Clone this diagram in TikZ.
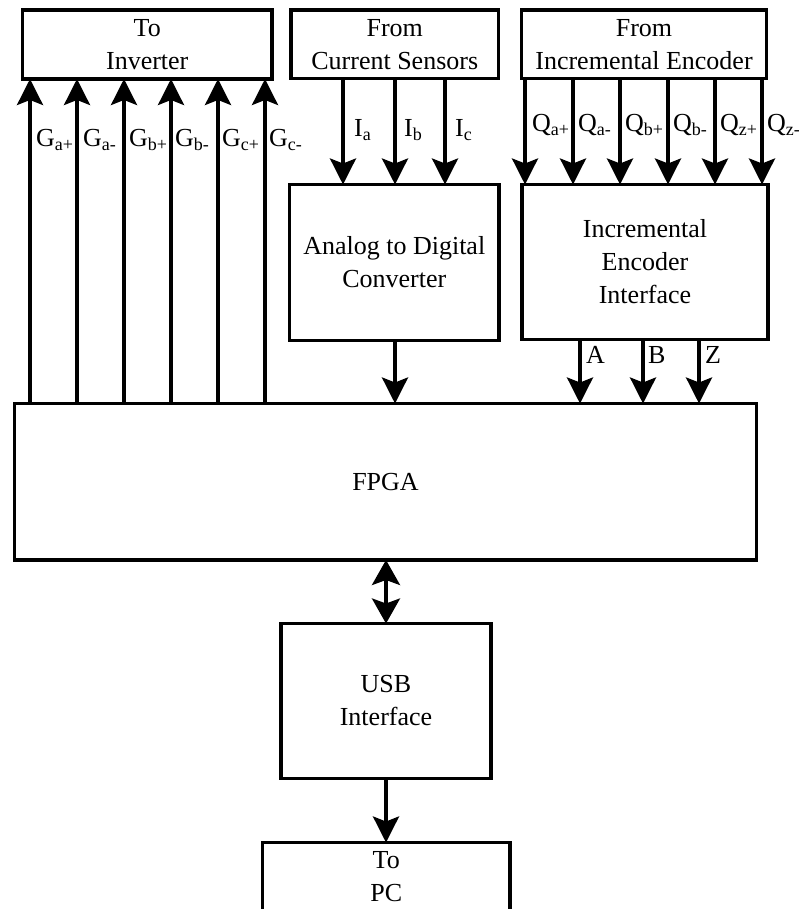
\documentclass[tikz,border=0pt]{standalone}
\usepackage{fontspec}
\setmainfont{Liberation Serif}
\usetikzlibrary{arrows.meta}
\newcommand{\lowsub}[1]{\raisebox{-4pt}{\fontsize{18}{18}\selectfont #1}}
\begin{document}
\begin{tikzpicture}[x=1pt,y=-1pt,
 box/.style={draw, line width=3.5pt, anchor=north west, inner sep=0pt, outer sep=0pt, align=center, font=\fontsize{26}{33}\selectfont},
 arr/.style={line width=3.5pt, -{Stealth[length=26pt,width=26pt,inset=5pt]}},
 darr/.style={line width=3.5pt, {Stealth[length=25pt,width=28pt,inset=5pt]}-{Stealth[length=25pt,width=28pt,inset=5pt]}},
 lbl/.style={anchor=base west, inner sep=0pt, font=\fontsize{26}{33}\selectfont}]
\useasboundingbox (0,0) rectangle (799,909);
\clip (0,0) rectangle (799,909);
% boxes
\node[box, minimum width=249.5pt, minimum height=69pt] (inv) at (22.5,10) {To\\Inverter};
\node[box, minimum width=207.5pt, minimum height=68.5pt] (cs) at (291,10) {From\\Current Sensors};
\node[box, minimum width=245pt, minimum height=68.5pt] (enc) at (521.5,10) {From\\Incremental Encoder};
\node[box, minimum width=209.5pt, minimum height=156pt] (adc) at (289.5,184.5) {Analog to Digital\\Converter};
\node[box, minimum width=246pt, minimum height=155pt] (eif) at (522,184.5) {Incremental\\Encoder\\Interface};
\node[box, minimum width=742pt, minimum height=156.5pt] (fpga) at (14.5,403.5) {FPGA};
\node[box, minimum width=210pt, minimum height=155pt] (usb) at (281,623.5) {USB\\Interface};
\node[box, minimum width=247.5pt, minimum height=69pt] (pc) at (262.5,842.5) {To\\PC};
% gate signals
\foreach \x in {30,77,124,171,218,265}
  \draw[arr] (fpga.north -| \x,0) -- (inv.south -| \x,0);
\node[lbl] (ga1) at (36,147) {G\lowsub{a+}};
\node[lbl] (ga2) at (83,147) {G\lowsub{a-}};
\node[lbl] (gb1) at (129,147) {G\lowsub{b+}};
\node[lbl] (gb2) at (175,147) {G\lowsub{b-}};
\node[lbl] (gc1) at (222,147) {G\lowsub{c+}};
\node[lbl] (gc2) at (269,147) {G\lowsub{c-}};
% current sensors
\foreach \x in {343,395,445}
  \draw[arr] (cs.south -| \x,0) -- (adc.north -| \x,0);
\node[lbl] (ia) at (354,137) {I\lowsub{a}};
\node[lbl] (ib) at (404,137) {I\lowsub{b}};
\node[lbl] (ic) at (455,137) {I\lowsub{c}};
% encoder signals
\foreach \x in {525,573,620,668,715,762}
  \draw[arr] (enc.south -| \x,0) -- (eif.north -| \x,0);
\node[lbl] (qa1) at (532,132) {Q\lowsub{a+}};
\node[lbl] (qa2) at (578,132) {Q\lowsub{a-}};
\node[lbl] (qb1) at (625,132) {Q\lowsub{b+}};
\node[lbl] (qb2) at (673,132) {Q\lowsub{b-}};
\node[lbl] (qz1) at (720,132) {Q\lowsub{z+}};
\node[lbl] (qz2) at (767,132) {Q\lowsub{z-}};
% to FPGA
\draw[arr] (adc.south -| 395,0) -- (fpga.north -| 395,0);
\foreach \x in {580,643,699}
  \draw[arr] (eif.south -| \x,0) -- (fpga.north -| \x,0);
\node[lbl] (la) at (586,363) {A};
\node[lbl] (lb) at (648,363) {B};
\node[lbl] (lz) at (705,363) {Z};
% USB
\draw[darr] (fpga.south -| 386,0) -- (usb.north -| 386,0);
\draw[arr] (usb.south -| 386,0) -- (pc.north -| 386,0);
\end{tikzpicture}
\end{document}
